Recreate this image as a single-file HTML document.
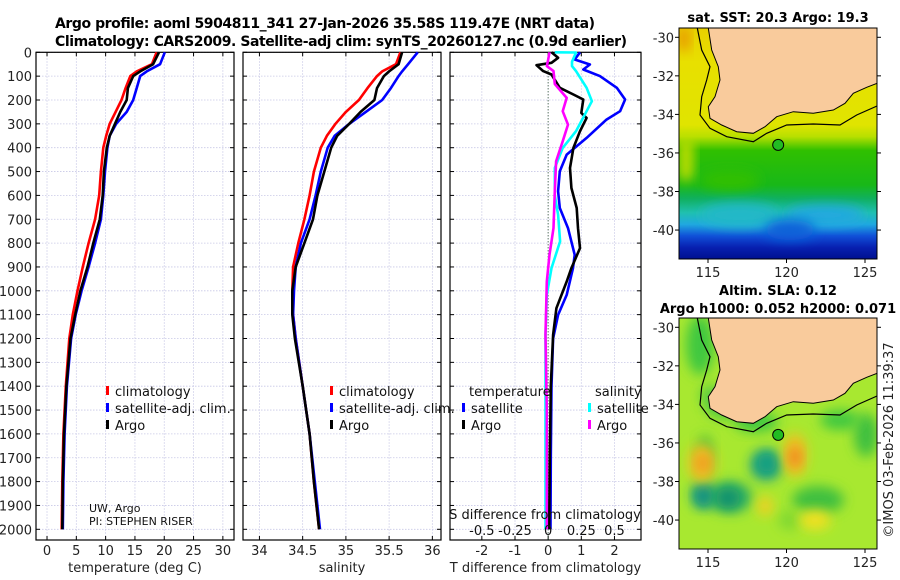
<!DOCTYPE html>
<html><head><meta charset="utf-8"><style>
html,body{margin:0;padding:0;background:#fff;width:900px;height:580px;overflow:hidden}
svg{display:block;font-family:"DejaVu Sans","Liberation Sans",sans-serif}
</style></head><body>
<svg id="fig" width="900" height="580" viewBox="0 0 900 580">
<defs>
<linearGradient id="sstg" x1="0" y1="28" x2="0" y2="259" gradientUnits="userSpaceOnUse">
<stop offset="0" stop-color="#e8d000"/><stop offset="0.15" stop-color="#e8e000"/>
<stop offset="0.42" stop-color="#e0e400"/><stop offset="0.47" stop-color="#b8e000"/>
<stop offset="0.53" stop-color="#30c000"/><stop offset="0.68" stop-color="#18b818"/>
<stop offset="0.74" stop-color="#10b060"/><stop offset="0.8" stop-color="#20c0b0"/>
<stop offset="0.85" stop-color="#20a8e0"/><stop offset="0.9" stop-color="#1050d8"/>
<stop offset="0.95" stop-color="#0820b0"/><stop offset="1" stop-color="#001090"/>
</linearGradient>
<filter id="blur" x="-50%" y="-50%" width="200%" height="200%"><feGaussianBlur stdDeviation="6"/></filter>
<clipPath id="clipTop"><rect x="679" y="28" width="198" height="231"/></clipPath>
<clipPath id="clipBot"><rect x="679" y="318" width="198" height="231"/></clipPath>
</defs>
<g id="titles">
<text x="55" y="28" font-size="14" font-weight="bold" textLength="540">Argo profile: aoml 5904811_341 27-Jan-2026 35.58S 119.47E (NRT data)</text>
<text x="55" y="46" font-size="14" font-weight="bold" textLength="572">Climatology: CARS2009. Satellite-adj clim: synTS_20260127.nc (0.9d earlier)</text>
</g>
<g id="panels"></g>
<g id="maps"></g>
<text transform="translate(893,440) rotate(-90)" font-size="13" text-anchor="middle" fill="#222">©IMOS 03-Feb-2026 11:39:37</text>
</svg>
<script>
// ---- data ----
const depths = [0,50,80,100,150,200,250,300,350,400,500,600,700,800,900,1000,1100,1200,1400,1600,1800,2000];
const tempArgo = [19.1,18.1,15.9,14.7,13.8,13.6,12.5,11.6,10.7,10.2,9.7,9.5,9.0,7.9,6.9,5.7,4.8,4.0,3.3,2.9,2.7,2.6];
const tempClim = [18.7,17.9,15.3,14.2,13.4,12.7,11.7,10.7,10.1,9.6,9.2,8.9,8.2,7.1,6.1,5.2,4.4,3.8,3.2,2.8,2.6,2.5];
const tempSat  = [20.1,19.3,17.0,15.9,15.3,14.7,13.6,11.8,10.7,10.3,9.9,9.6,9.2,8.2,7.1,5.9,4.9,4.1,3.4,3.0,2.8,2.7];
const salArgo = [35.65,35.61,35.5,35.44,35.36,35.33,35.17,35.04,34.9,34.83,34.75,34.67,34.62,34.52,34.42,34.38,34.38,34.41,34.5,34.58,34.63,34.69];
const salClim = [35.63,35.58,35.42,35.36,35.25,35.15,35.0,34.88,34.78,34.71,34.63,34.58,34.52,34.45,34.39,34.38,34.39,34.42,34.5,34.58,34.63,34.69];
const salSat  = [35.83,35.72,35.65,35.61,35.52,35.42,35.23,35.04,34.87,34.79,34.71,34.65,34.58,34.48,34.42,34.4,34.39,34.42,34.5,34.58,34.64,34.7];
const dTsatDepth = [0,30,51,72,100,149,198,247,282,359,429,499,583,653,737,849,905,1017,1101,1200,1400,1700,2000];
const dTsat = [0.96,0.8,1.26,1.06,1.56,2.07,2.32,2.17,1.76,1.16,0.56,0.35,0.3,0.35,0.6,0.8,0.75,0.56,0.3,0.15,0.1,0.08,0.07];
const dTargoDepth = [0,23,44,54,79,93,149,177,198,254,275,331,401,485,569,653,737,821,905,961,1073,1185,1400,1700,2000];
const dTargo = [0.1,0.3,0.1,-0.35,-0.15,0.1,0.35,0.76,1.06,1.0,1.16,0.96,0.76,0.66,0.7,0.86,0.9,0.96,0.7,0.56,0.25,0.15,0.08,0.05,0.03];
const dSsatDepth = [0,1,40,58,79,149,205,247,331,401,485,600,681,793,905,1017,1185,1500,2000];
const dSsat = [0.05,0.21,0.18,0.18,0.21,0.29,0.33,0.29,0.21,0.11,0.05,0.05,0.075,0.09,0.025,-0.01,-0.02,-0.02,-0.02];
const dSargoDepth = [0,30,58,79,133,191,247,303,373,457,583,737,849,961,1185,1500,2000];
const dSargo = [0.01,0.0,-0.01,0.04,0.05,0.14,0.11,0.15,0.11,0.06,0.05,0.04,0.01,-0.01,-0.02,-0.01,-0.01];
const depthTicks = [0,100,200,300,400,500,600,700,800,900,1000,1100,1200,1300,1400,1500,1600,1700,1800,1900,2000];
const tempTicks = [0,5,10,15,20,25,30];
const salTicks = [34,34.5,35,35.5,36];
const salTickLabels = ['34','34.5','35','35.5','36'];
const diffTicks = [-2,-1,0,1,2];
const sDiffTicks = [-0.5,-0.25,0,0.25,0.5];
const sDiffLabels = ['-0.5','-0.25','0','0.25','0.5'];
const lonTicks = [115,120,125];
const latTicks = [-30,-32,-34,-36,-38,-40];
const argoLon = 119.47, argoLat = -35.58;

const NS='http://www.w3.org/2000/svg';
function mk(tag,attrs,parent,text){const e=document.createElementNS(NS,tag);for(const k in attrs)e.setAttribute(k,attrs[k]);if(text!==undefined)e.textContent=text;parent.appendChild(e);return e;}
const yTop=52.3, yPer=0.2385, yBot=540;
const yS = d => yTop + d*yPer;
const panels = document.getElementById('panels');

function panel(name,x0,x1,vmin,vmax,ticks,labels,xlabel){
  const g=mk('g',{},panels);
  
  
  const xs = v => x0 + (v-vmin)/(vmax-vmin)*(x1-x0);
  depthTicks.forEach(d=>{const l=mk('line',{x1:x0,x2:x1,y1:yS(d),y2:yS(d),stroke:'#c8c8e6','stroke-width':0.8,'stroke-dasharray':'1.5,1.5'},g);
    });
  ticks.forEach((t,i)=>{const l=mk('line',{x1:xs(t),x2:xs(t),y1:yTop,y2:yBot,stroke:'#c8c8e6','stroke-width':0.8,'stroke-dasharray':'1.5,1.5'},g);
    
    mk('line',{x1:xs(t),x2:xs(t),y1:yBot,y2:yBot-4,stroke:'#000'},g);
    mk('line',{x1:xs(t),x2:xs(t),y1:yTop,y2:yTop+4,stroke:'#000'},g);
    const tl=mk('text',{x:xs(t),y:yBot+15,'font-size':13,'text-anchor':'middle',fill:'#222'},g,labels[i]);
    
  });
  depthTicks.forEach(d=>{mk('line',{x1:x0,x2:x0+4,y1:yS(d),y2:yS(d),stroke:'#000'},g);mk('line',{x1:x1,x2:x1-4,y1:yS(d),y2:yS(d),stroke:'#000'},g);});
  const b=mk('rect',{x:x0,y:yTop,width:x1-x0,height:yBot-yTop,fill:'none',stroke:'#000','stroke-width':1.2},g);
  
  const xl=mk('text',{x:(x0+x1)/2,y:572,'font-size':13,'text-anchor':'middle',fill:'#222'},g,xlabel);
  
  return {g,xs};
}
function series(p,vals,ds,color,name,scale){
  const pts=vals.map((v,i)=>p.xs(v*(scale||1)).toFixed(1)+','+yS(ds[i]).toFixed(1)).join(' ');
  const l=mk('polyline',{points:pts,fill:'none',stroke:color,'stroke-width':2.6,'stroke-linejoin':'round'},p.g);
  
}
function legendItem(p,x,y,color,label,name){
  const g=mk('g',{},p.g);
  
  if(color) mk('rect',{x:x,y:y-10,width:3,height:9,fill:color},g);
  mk('text',{x:x+(color?9:0),y:y,'font-size':13,fill:'#111'},g,label);
}

const yl=mk('g',{},panels);

depthTicks.forEach(d=>{mk('text',{x:32,y:yS(d)+5,'font-size':13,'text-anchor':'end',fill:'#222'},yl,String(d));});

const p1=panel('temperature-panel',36,234,-1.88,31.9,tempTicks,tempTicks.map(String),'temperature (deg C)');
series(p1,tempClim,depths,'#ff0000','climatology-temp-line');
series(p1,tempSat,depths,'#0000ff','satellite-temp-line');
series(p1,tempArgo,depths,'#000000','argo-temp-line');
legendItem(p1,106,396,'#ff0000','climatology','legend-climatology');
legendItem(p1,106,413,'#0000ff','satellite-adj. clim.','legend-satellite');
legendItem(p1,106,430,'#000000','Argo','legend-argo');
mk('text',{x:89,y:512,'font-size':11,fill:'#111'},p1.g,'UW, Argo');
mk('text',{x:89,y:525,'font-size':11,fill:'#111'},p1.g,'PI: STEPHEN RISER');

const p2=panel('salinity-panel',243,441,33.81,36.1,salTicks,salTickLabels,'salinity');
series(p2,salClim,depths,'#ff0000','climatology-sal-line');
series(p2,salSat,depths,'#0000ff','satellite-sal-line');
series(p2,salArgo,depths,'#000000','argo-sal-line');
legendItem(p2,330,396,'#ff0000','climatology','legend-climatology-sal');
legendItem(p2,330,413,'#0000ff','satellite-adj. clim.','legend-satellite-sal');
legendItem(p2,330,430,'#000000','Argo','legend-argo-sal');

const p3=panel('difference-panel',450,641,-2.96,2.8,diffTicks,diffTicks.map(String),'T difference from climatology');
const z=mk('line',{x1:p3.xs(0),x2:p3.xs(0),y1:yTop,y2:yBot,stroke:'#335533','stroke-width':1,'stroke-dasharray':'1,2'},p3.g);

series(p3,dTsat,dTsatDepth,'#0000ff','satellite-tdiff-line');
series(p3,dTargo,dTargoDepth,'#000000','argo-tdiff-line');
series(p3,dSsat,dSsatDepth,'#00ffff','satellite-sdiff-line',4);
series(p3,dSargo,dSargoDepth,'#ff00ff','argo-sdiff-line',4);
legendItem(p3,469,396,null,'temperature','legend-temperature-header');
legendItem(p3,462,413,'#0000ff','satellite','legend-t-satellite');
legendItem(p3,462,430,'#000000','Argo','legend-t-argo');
legendItem(p3,595,396,null,'salinity','legend-salinity-header');
legendItem(p3,588,413,'#00ffff','satellite','legend-s-satellite');
legendItem(p3,588,430,'#ff00ff','Argo','legend-s-argo');
const st=mk('text',{x:545,y:519,'font-size':13,'text-anchor':'middle',fill:'#111'},p3.g,'S difference from climatology');

sDiffTicks.forEach((t,i)=>{const e=mk('text',{x:p3.xs(t*4),y:535,'font-size':13,'text-anchor':'middle',fill:'#111'},p3.g,sDiffLabels[i]);
  });

// ---- maps ----
const maps=document.getElementById('maps');
const lonX = lon => 708 + (lon-115)*15.7;
const latY = (lat,off) => 37.3 + (lat+30)/-2*38.55 + off;
const coast=[[708.3,28],[711.7,50],[718.3,66.7],[720,80],[715,96.7],[708.3,106.7],[710,118.3],[721.7,125],[736.7,131.7],[753.3,133.3],[765,126.7],[776.7,116.7],[793.3,111.7],[813.3,113.3],[833.3,110],[845,103.3],[853.3,93.3],[866.7,87.3],[877,83.3]];
const contour=[[697.3,28],[701.7,50],[710,66.7],[706.7,80],[701.7,96.7],[700,115],[710,128.3],[726.7,136.7],[753.3,141.7],[766.7,133.3],[786.7,125],[813.3,124],[840,125],[856.7,115],[877,106]];
function pstr(a,off){return a.map(p=>p[0]+','+(p[1]+off)).join(' ');}
function drawMap(off,name,title1,title2,bgFn){
  const g=mk('g',{},maps);
  
  const inner=mk('g',{'clip-path':'url(#'+(off?'clipBot':'clipTop')+')'},g);
  bgFn(inner,off);
  const lp=mk('polygon',{points:pstr(coast,off)+' 877,'+(off?318:28),fill:'#f9cb9c',stroke:'#000','stroke-width':1},inner);
  
  const cl=mk('polyline',{points:pstr(contour,off),fill:'none',stroke:'#000','stroke-width':1.2},inner);
  
  const c=mk('circle',{cx:lonX(argoLon),cy:latY(argoLat,off),r:5.5,fill:'#22bb22',stroke:'#000','stroke-width':1},g);
  
  const y0=off?318:28, y1=off?549:259;
  mk('rect',{x:679,y:y0,width:198,height:y1-y0,fill:'none',stroke:'#000','stroke-width':1},g);
  latTicks.forEach(l=>{const y=latY(l,off);mk('line',{x1:679,x2:675,y1:y,y2:y,stroke:'#000'},g);mk('line',{x1:877,x2:881,y1:y,y2:y,stroke:'#000'},g);
    mk('text',{x:674,y:y+5,'font-size':13,'text-anchor':'end',fill:'#222'},g,String(l));});
  lonTicks.forEach(l=>{const x=lonX(l);mk('line',{x1:x,x2:x,y1:y1,y2:y1+4,stroke:'#000'},g);
    mk('text',{x:x,y:y1+18,'font-size':13,'text-anchor':'middle',fill:'#222'},g,String(l));});
  const t1=mk('text',{x:778,y:22,'font-size':13,'font-weight':'bold','text-anchor':'middle'},g,title1);
  
  if(title2){t1.setAttribute('y',295);const t2=mk('text',{x:778,y:313,'font-size':13,'font-weight':'bold','text-anchor':'middle'},g,title2);
    }
}
drawMap(0,'sst-map','sat. SST: 20.3 Argo: 19.3',null,(g,off)=>{
  mk('rect',{x:679,y:28,width:198,height:231,fill:'url(#sstg)'},g);
  mk('rect',{x:679,y:28,width:10,height:22,fill:'#e89000',filter:'url(#blur)'},g);
  mk('rect',{x:679,y:140,width:14,height:40,fill:'#c8e000',filter:'url(#blur)'},g);
  mk('ellipse',{cx:730,cy:180,rx:30,ry:10,fill:'#30c000',filter:'url(#blur)'},g);
  mk('ellipse',{cx:740,cy:215,rx:40,ry:12,fill:'#20b8c8',filter:'url(#blur)'},g);
  mk('ellipse',{cx:825,cy:215,rx:40,ry:10,fill:'#20a8e0',filter:'url(#blur)'},g);
  mk('ellipse',{cx:790,cy:230,rx:25,ry:10,fill:'#1060d8',filter:'url(#blur)'},g);
});
drawMap(290,'sla-map','Altim. SLA: 0.12','Argo h1000: 0.052 h2000: 0.071',(g,off)=>{
  mk('rect',{x:679,y:318,width:198,height:231,fill:'#a8e830'},g);
  const blobs=[[700,345,14,30,'#40c840'],[710,395,10,10,'#60d040'],[725,405,20,14,'#50c840'],[703,495,12,14,'#20a080'],[730,497,22,16,'#30b060'],[766,465,16,16,'#20a080'],[818,500,26,14,'#40c040'],[866,435,12,22,'#40c040'],[756,422,22,10,'#40c840'],[705,455,8,20,'#40c040'],[840,420,20,10,'#40c840'],[790,520,12,10,'#80d830']];
  blobs.forEach(b=>mk('ellipse',{cx:b[0],cy:b[1],rx:b[2],ry:b[3],fill:b[4],filter:'url(#blur)'},g));
  mk('ellipse',{cx:704,cy:496,rx:8,ry:10,fill:'#109080',filter:'url(#blur)'},g);
  mk('ellipse',{cx:728,cy:498,rx:12,ry:10,fill:'#109070',filter:'url(#blur)'},g);
  mk('ellipse',{cx:767,cy:463,rx:9,ry:9,fill:'#10a080',filter:'url(#blur)'},g);
  mk('ellipse',{cx:702,cy:463,rx:14,ry:20,fill:'#f0c020',filter:'url(#blur)'},g);
  mk('ellipse',{cx:703,cy:463,rx:6,ry:8,fill:'#f09020',filter:'url(#blur)'},g);
  mk('ellipse',{cx:795,cy:455,rx:12,ry:22,fill:'#f0c020',filter:'url(#blur)'},g);
  mk('ellipse',{cx:795,cy:457,rx:6,ry:10,fill:'#f08020',filter:'url(#blur)'},g);
  mk('ellipse',{cx:765,cy:506,rx:8,ry:10,fill:'#f0d020',filter:'url(#blur)'},g);
  mk('ellipse',{cx:815,cy:520,rx:16,ry:10,fill:'#f0e020',filter:'url(#blur)'},g);
});
</script>
</body></html>
